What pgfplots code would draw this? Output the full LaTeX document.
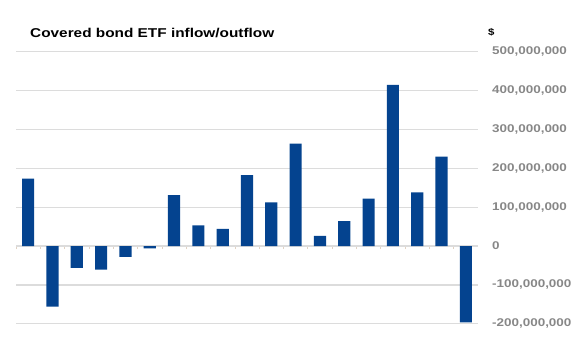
\documentclass[border=0pt]{standalone}
\usepackage{pgfplots}
\pgfplotsset{compat=1.18}
\usepackage{fontspec}
\setmainfont{Liberation Sans}
\newfontfamily\widefont[FakeStretch=1.2]{Liberation Sans}
\definecolor{barblue}{RGB}{4,67,143}
\definecolor{gridgray}{RGB}{220,220,220}
\definecolor{labgray}{RGB}{135,135,135}
\definecolor{tickcol}{RGB}{225,210,195}
\begin{document}
\begin{tikzpicture}[x=1pt,y=1pt]
\path[use as bounding box] (0,0) rectangle (586,-355);
\begin{axis}[
  at={(16pt,-353pt)}, anchor=south west, scale only axis,
  width=462pt, height=301.5pt,
  xmin=-0.5, xmax=18.5, ymin=-275, ymax=500,
  axis x line*=middle, axis y line*=right,
  x axis line style={draw=gridgray, line width=1.2pt},
  y axis line style={draw=none},
  xtick={-0.5,0.5,...,18.5}, xticklabels={},
  x tick style={draw=tickcol, line width=0.6pt},
  tick align=outside, major tick length=3pt,
  ytick={-200,-100,0,100,200,300,400,500},
  yticklabels={{-200,000,000},{-100,000,000},0,{100,000,000},{200,000,000},{300,000,000},{400,000,000},{500,000,000}},
  y tick style={draw=none},
  yticklabel style={anchor=west, inner sep=0pt, xshift=11pt, text=labgray,
     font=\widefont\bfseries\fontsize{11.2}{13}\selectfont},
  ymajorgrids, grid style={draw=gridgray, line width=1.2pt},
  ybar, bar width=0.5,
  clip=false,
]
\addplot[fill=barblue, draw=none] coordinates {
(0,173) (1,-156) (2,-56) (3,-61) (4,-28) (5,-6) (6,131) (7,53) (8,44) (9,182)
(10,112) (11,263) (12,26) (13,64) (14,122) (15,414) (16,138) (17,230) (18,-196)
};
\end{axis}
\node[anchor=base west, inner sep=0pt, font=\widefont\bfseries\fontsize{12.8}{15}\selectfont] at (30,-37.5) {Covered bond ETF inflow/outflow};
\node[anchor=base west, inner sep=0pt, font=\widefont\bfseries\fontsize{9.5}{11}\selectfont] at (488,-35.5) {\$};
\end{tikzpicture}
\end{document}
